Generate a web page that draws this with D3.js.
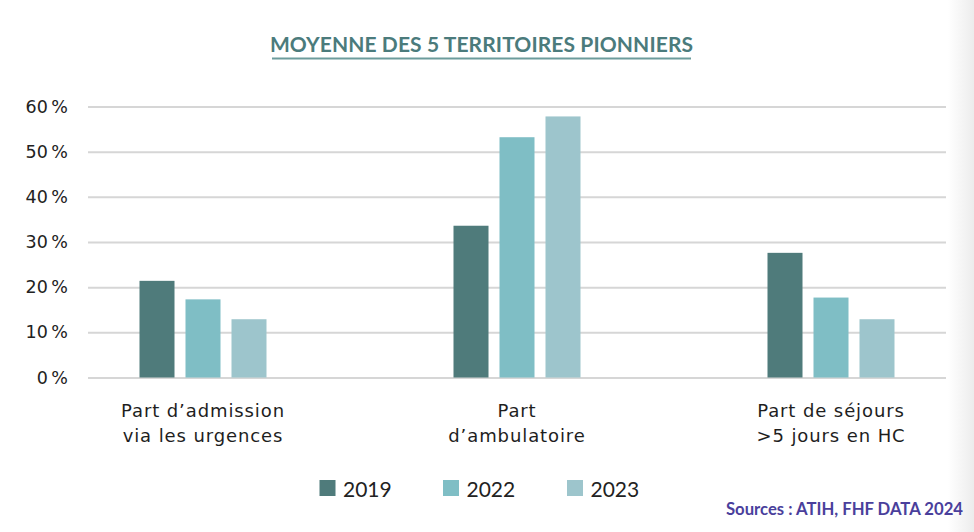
<!DOCTYPE html>
<html>
<head>
<meta charset="utf-8">
<script src="https://cdn.jsdelivr.net/npm/d3@7"></script>
<style>
  html, body { margin: 0; padding: 0; background: #fff; }
  svg { display: block; font-family: Lato, "Open Sans", sans-serif; }
</style>
</head>
<body>
<svg id="chart" width="974" height="532"></svg>
<script>
// ---- data ----
const categories = ["admission", "ambulatoire", "sejours"];
const categoryLabels = [
  ["Part d’admission", "via les urgences"],
  ["Part", "d’ambulatoire"],
  ["Part de séjours", ">5 jours en HC"]
];
const years = ["2019", "2022", "2023"];
const values2019 = [21.4, 33.6, 27.6];
const values2022 = [17.3, 53.2, 17.7];
const values2023 = [12.9, 57.8, 12.9];
const yTicks = [0, 10, 20, 30, 40, 50, 60];
const titleText = "MOYENNE DES 5 TERRITOIRES PIONNIERS";
const sourceText = "Sources : ATIH, FHF DATA 2024";

const seriesByYear = { "2019": values2019, "2022": values2022, "2023": values2023 };
const colors = { "2019": "#4f7b7b", "2022": "#7fbec5", "2023": "#9dc5cc" };

// ---- layout ----
const svg = d3.select("#chart");
const W = 974, H = 532;
const gridLeft = 88, gridRight = 946;
const yTop = 106.5, yBottom = 377.5;
const LATO = "Lato, 'Open Sans', sans-serif";
const DEJAVU = "'DejaVu Sans', sans-serif";

// right-edge soft shade
const defs = svg.append("defs");
const grad = defs.append("linearGradient").attr("id", "shade").attr("x1", 0).attr("x2", 1);
grad.append("stop").attr("offset", 0).attr("stop-color", "#ffffff");
grad.append("stop").attr("offset", 1).attr("stop-color", "#ececec");
svg.append("rect").attr("x", 948).attr("y", 0).attr("width", 26).attr("height", H).attr("fill", "url(#shade)");

// scales
const y = d3.scaleLinear().domain([0, 60]).range([yBottom, yTop]);
const x0 = d3.scaleBand().domain(categories).range([46, 988]).padding(0);
const groupWidth = 127;
const x1 = d3.scaleBand().domain(years).range([0, groupWidth]).paddingInner(0.239).paddingOuter(0);

// title
svg.append("text")
  .attr("x", 481.5).attr("y", 51.5)
  .attr("text-anchor", "middle")
  .style("font-family", LATO)
  .style("font-size", "21px").style("font-weight", 700)
  .style("letter-spacing", "0.1px")
  .attr("fill", "#4b7b7c")
  .text(titleText);
svg.append("line")
  .attr("x1", 272).attr("x2", 691).attr("y1", 58.5).attr("y2", 58.5)
  .attr("stroke", "#6c9c9c").attr("stroke-width", 2.2);

// y axis with gridlines
const yAxis = d3.axisLeft(y)
  .tickValues(yTicks)
  .tickSize(gridRight - gridLeft)
  .tickPadding(20)
  .tickFormat(d => d + "\u202F%");
const gy = svg.append("g")
  .attr("transform", `translate(${gridRight},0)`)
  .call(yAxis);
gy.select(".domain").remove();
gy.selectAll(".tick line").attr("stroke", "#d6d6d6").attr("stroke-width", 2);
gy.attr("font-family", null).attr("font-size", null);
gy.selectAll(".tick text")
  .style("font-family", DEJAVU)
  .style("font-size", "17.5px")
  .style("letter-spacing", "2.2px")
  .attr("fill", "#222");

// bars
const groups = svg.append("g").selectAll("g")
  .data(categories)
  .join("g")
  .attr("transform", d => `translate(${x0(d) + (x0.bandwidth() - groupWidth) / 2},0)`);

groups.selectAll("rect")
  .data((d, i) => years.map(yr => ({ year: yr, value: seriesByYear[yr][i] })))
  .join("rect")
  .attr("x", d => x1(d.year))
  .attr("width", x1.bandwidth())
  .attr("y", d => y(d.value))
  .attr("height", d => y(0) - y(d.value))
  .attr("fill", d => colors[d.year]);

// x axis labels
const xAxis = d3.axisBottom(x0).tickSize(0).tickPadding(0).tickFormat("");
const gx = svg.append("g")
  .attr("transform", `translate(0,${yBottom})`)
  .call(xAxis);
gx.select(".domain").remove();
gx.attr("font-family", null).attr("font-size", null);
gx.selectAll(".tick").each(function(d, i) {
  const t = d3.select(this).append("text")
    .attr("text-anchor", "middle")
    .style("font-family", DEJAVU)
    .style("font-size", "18px")
    .style("letter-spacing", "0.9px")
    .attr("fill", "#1e1e1e");
  categoryLabels[i].forEach((line, k) => {
    t.append("tspan").attr("x", 0).attr("y", 39.5 + k * 24.5).text(line);
  });
});

// legend
const legendX = [319.5, 443, 567];
const legend = svg.append("g").selectAll("g")
  .data(years)
  .join("g")
  .attr("transform", (d, i) => `translate(${legendX[i]},480)`);
legend.append("rect")
  .attr("width", 16).attr("height", 16)
  .attr("fill", d => colors[d]);
legend.append("text")
  .attr("x", 23.5).attr("y", 16.5)
  .style("font-family", LATO)
  .style("font-size", "21px")
  .attr("fill", "#222")
  .text(d => d);

// source
svg.append("text")
  .attr("x", 963).attr("y", 515)
  .attr("text-anchor", "end")
  .style("font-family", LATO)
  .style("font-size", "16.7px")
  .style("font-weight", 700)
  .attr("fill", "#4a3f9c")
  .text(sourceText);
</script>
</body>
</html>
